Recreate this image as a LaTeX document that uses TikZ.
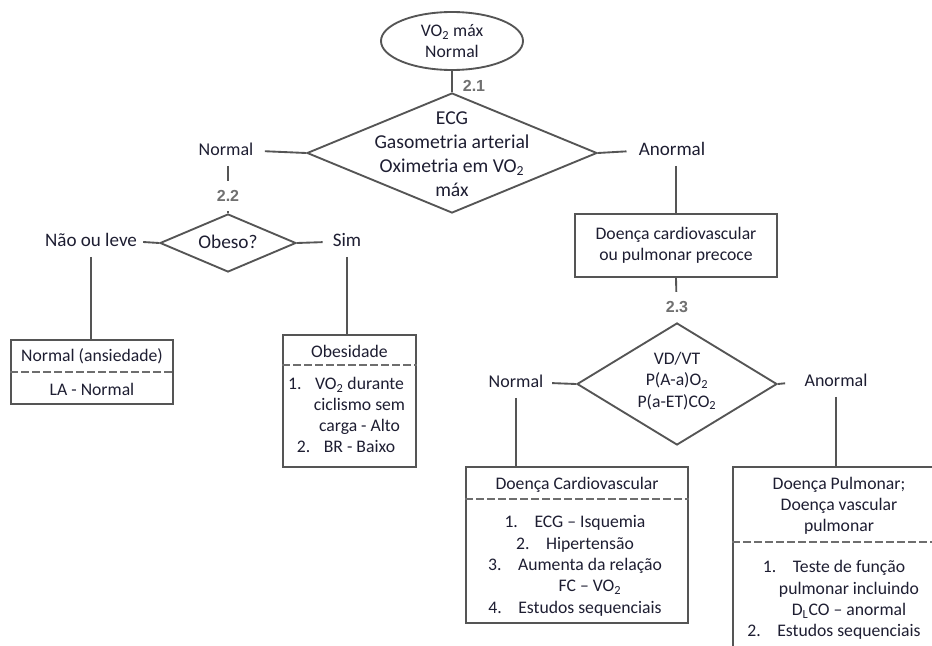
\documentclass[tikz,border=0pt]{standalone}
\usepackage{fontspec}
\setmainfont{Carlito}
\newfontfamily\stepfont{Liberation Sans}
\usetikzlibrary{shapes.geometric}
\definecolor{ink}{RGB}{30,30,50}
\definecolor{wirecol}{RGB}{85,85,85}
\definecolor{stepgray}{RGB}{112,112,112}
\begin{document}
\begin{tikzpicture}[x=0.75pt,y=-0.75pt,
  every node/.style={text=ink},
  txt/.style={font=\fontsize{13.25}{15.75}\selectfont, align=center, inner sep=0pt},
  wide/.style={font=\fontsize{14.75}{18}\selectfont, align=center, inner sep=0pt},
  lbl/.style={font=\fontsize{13.5}{15}\selectfont, text height=9pt, text depth=3pt,
              inner xsep=4.5pt, inner ysep=5pt},
  biglbl/.style={lbl, font=\fontsize{14.3}{16}\selectfont},
  stepno/.style={font=\stepfont\bfseries\fontsize{12}{14}\selectfont, text=stepgray, inner sep=1pt},
  stepgap/.style={stepno, fill=white, minimum height=22pt},
  wire/.style={draw=wirecol, line width=1.4pt},
  boxframe/.style={draw=wirecol, line width=1.4pt, inner sep=0pt},
  dia/.style={diamond, draw=wirecol, line width=1.4pt, inner sep=0pt},
  sepline/.style={draw=wirecol!85, line width=1.3pt, dash pattern=on 6pt off 2.25pt},
]
\fill[white] (0,0) rectangle (932,646);
\useasboundingbox (0,0) rectangle (932,646);
\clip (0,0) rectangle (932,646);

% start
\node[txt, ellipse, draw=wirecol, line width=1.4pt, minimum width=106.5pt,
      minimum height=43.5pt] (e0) at (452,41) {VO\textsubscript{2} máx\\Normal};

% step 2.1
\node[dia, minimum width=217.5pt, minimum height=90pt] (d1) at (452,153) {};
\node[wide] (d1t) at (452,154) {ECG\\Gasometria arterial\\Oximetria em VO\textsubscript{2}\\máx};
\draw[wire] (e0.south) -- (d1.north);
\node[stepno] (s21) at (474,86) {2.1};

\node[lbl] (n1) at (226,151) {Normal};
\node[biglbl] (a1) at (672,151) {Anormal};
\draw[wire, shorten >=4pt] (d1.west) -- (n1.east);
\draw[wire, shorten >=4.5pt] (d1.east) -- (a1.west);

% step 2.2
\node[dia, minimum width=102pt, minimum height=43.5pt] (d2) at (228,243) {};
\node[txt, font=\fontsize{14.5}{16}\selectfont] (d2t) at (228,242) {Obeso?};
\draw[wire] (n1.south -| d2.north) -- (d2.north);
\node[stepgap] (s22) at (228,196) {2.2};

\node[biglbl] (nl) at (91,242) {Não ou leve};
\node[biglbl] (sim) at (347,242) {Sim};
\draw[wire] (d2.west) -- (nl.east);
\draw[wire, shorten >=3pt] (d2.east) -- (sim.west);

% normal result
\node[boxframe, minimum width=121.5pt, minimum height=48pt] (b1) at (92,372) {};
\draw[wire] (nl.south) -- (nl.south |- b1.north);
\node[txt] (b1h) at (92,356) {Normal (ansiedade)};
\draw[sepline] (b1.west) -- (b1.east);
\node[txt] (b1b) at (92,389) {LA - Normal};

% obesity result
\node[boxframe, minimum width=99.75pt, minimum height=99pt] (b2) at (349.5,401) {};
\draw[wire] (sim.south) -- (sim.south |- b2.north);
\node[txt] (b2h) at (349.5,351) {Obesidade};
\coordinate (sep2) at (349.5,365);
\draw[sepline] (b2.west |- sep2) -- (b2.east |- sep2);
\node[txt] (b2b) at (346,415) {\makebox[20.25pt][l]{1.}VO\textsubscript{2} durante\\
  \hspace*{20.25pt}ciclismo sem\\\hspace*{20.25pt}carga - Alto\\
  \makebox[20.25pt][l]{2.}BR - Baixo};

% abnormal branch
\node[txt, boxframe, minimum width=151.5pt, minimum height=47.25pt] (c1) at (676,245.5)
  {Doença cardiovascular\\ou pulmonar precoce};
\draw[wire] (a1.south -| c1.north) -- (c1.north);

% step 2.3
\node[dia, minimum width=150pt, minimum height=91.5pt] (d3) at (677,384) {};
\node[txt, font=\fontsize{13.25}{16}\selectfont] (d3t) at (677,381)
  {VD/VT\\P(A-a)O\textsubscript{2}\\P(a-ET)CO\textsubscript{2}};
\draw[wire] (c1.south) -- (d3.north);
\node[stepgap] (s23) at (677,307) {2.3};

\node[lbl] (n3) at (516,383) {Normal};
\node[lbl] (a3) at (836,382) {Anormal};
\draw[wire, shorten >=2pt] (d3.west) -- (n3.east);
\draw[wire, shorten >=10pt] (d3.east) -- (a3.west);

% cardiovascular result
\node[boxframe, minimum width=166.5pt, minimum height=117pt] (b3) at (577,545) {};
\draw[wire] (n3.south) -- (n3.south |- b3.north);
\node[txt] (b3h) at (577,485) {Doença Cardiovascular};
\coordinate (sep3) at (577,499);
\draw[sepline] (b3.west |- sep3) -- (b3.east |- sep3);
\node[txt, font=\fontsize{13.25}{16}\selectfont] (b3b) at (575,566)
  {\makebox[22.5pt][l]{1.}ECG – Isquemia\\\makebox[22.5pt][l]{2.}Hipertensão\\
   \makebox[22.5pt][l]{3.}Aumenta da relação\\\hspace*{22.5pt}FC – VO\textsubscript{2}\\
   \makebox[22.5pt][l]{4.}Estudos sequenciais};

% pulmonary result
\node[boxframe, minimum width=159pt, minimum height=150pt] (b4) at (839,567) {};
\draw[wire] (a3.south) -- (a3.south |- b4.north);
\node[txt] (b4h) at (839,506) {Doença Pulmonar;\\Doença vascular\\pulmonar};
\coordinate (sep4) at (839,542);
\draw[sepline] (b4.west |- sep4) -- (b4.east |- sep4);
\node[txt, font=\fontsize{13.25}{16}\selectfont] (b4b) at (834,600)
  {\makebox[22.5pt][l]{1.}Teste de função\\\hspace*{22.5pt}pulmonar incluindo\\
   \hspace*{22.5pt}D\textsubscript{L}CO – anormal\\\makebox[22.5pt][l]{2.}Estudos sequenciais};
\end{tikzpicture}
\end{document}
